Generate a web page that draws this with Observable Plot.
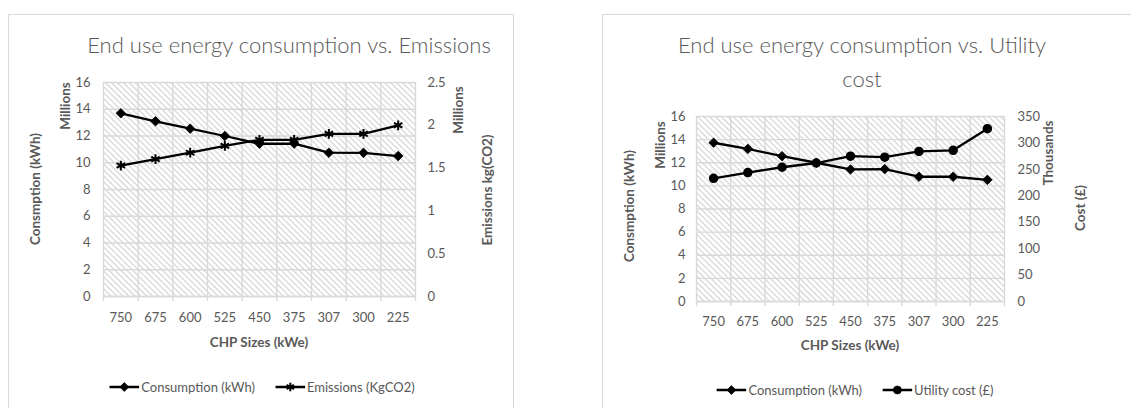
<!DOCTYPE html>
<html><head><meta charset="utf-8">
<script src="https://cdn.jsdelivr.net/npm/d3@7"></script>
<script src="https://cdn.jsdelivr.net/npm/@observablehq/plot@0.6"></script>
<style>
body{margin:0;background:#fff;font-family:Lato,"Open Sans",sans-serif;}
#root{position:relative;width:1131px;height:408px;overflow:hidden;background:#fff;}
.panel{position:absolute;border:1px solid #d9d9d9;}
.title{position:absolute;color:#595959;font-weight:300;font-size:22px;text-align:center;white-space:nowrap;transform:translateX(-50%);line-height:34px;}
.lab{position:absolute;color:#595959;font-weight:700;font-size:13.5px;white-space:nowrap;transform:translate(-50%,-50%) rotate(-90deg);}
.xlab{position:absolute;color:#595959;font-weight:700;font-size:13.5px;white-space:nowrap;transform:translate(-50%,-50%);}
.legend{position:absolute;display:flex;align-items:center;color:#595959;font-size:13px;white-space:nowrap;transform:translate(-50%,-50%);}
.legend .item{display:flex;align-items:center;margin-right:20px;}
.legend .item:last-child{margin-right:0;}
.legend svg{margin-right:2px;}
.plotwrap{position:absolute;top:0;}
</style></head><body><div id="root"></div>
<script>
// ---- data ----
const sizes = ["750","675","600","525","450","375","307","300","225"];
// Left chart: consumption (millions kWh) and emissions (millions kgCO2)
const consumptionL = [13.7,13.1,12.55,12.0,11.42,11.43,10.75,10.74,10.5];
const emissions    = [1.53,1.605,1.68,1.76,1.83,1.83,1.90,1.90,2.0];
// Right chart: consumption (millions kWh) and utility cost (thousands £)
const consumptionR = [13.73,13.2,12.57,12.0,11.42,11.45,10.79,10.79,10.52];
const utilityCost  = [233,244,254,262,275,273,284,286,327];
const consTicks = [0,2,4,6,8,10,12,14,16];
const emisTicks = [0,0.5,1,1.5,2,2.5];
const costTicks = [0,50,100,150,200,250,300,350];

const root = document.getElementById("root");

function el(cls, html, style){
  const d=document.createElement("div"); d.className=cls; d.innerHTML=html;
  Object.assign(d.style, style); root.appendChild(d); return d;
}

function makeChart(o){
  const primMax = 16;
  const k = primMax / o.secMax;
  const rows = sizes.map((s,i)=>({x:i+0.5, cons:o.cons[i], sec:o.sec[i]*k}));
  const svg = Plot.plot({
    width:o.width, height:408,
    marginLeft:o.ml, marginRight:o.mr, marginTop:o.mt, marginBottom:o.mb,
    style:{fontFamily:"Lato, 'Open Sans', sans-serif", fontSize:"13px", color:"#595959", background:"transparent", overflow:"visible"},
    x:{type:"linear", domain:[0,sizes.length]},
    y:{domain:[0,primMax]},
    marks:[
      Plot.frame({fill:`url(#${o.id})`, stroke:null}),
      Plot.gridY(consTicks,{stroke:"#d9d9d9", strokeOpacity:1, strokeWidth:1.4}),
      Plot.gridX(d3.range(sizes.length+1),{stroke:"#d9d9d9", strokeOpacity:1, strokeWidth:1.4}),
      Plot.ruleY([0],{stroke:"#d9d9d9", strokeWidth:1.4}),
      Plot.axisY(consTicks,{anchor:"left", tickSize:0, tickPadding:o.lpad, label:null}),
      Plot.axisY(o.secTicks.map(v=>v*k),{anchor:"right", tickSize:0, tickPadding:o.rpad, label:null,
        tickFormat:d=>String(+(d/k).toFixed(2))}),
      Plot.axisX(d3.range(sizes.length+1),{anchor:"bottom", tickSize:5, stroke:"#d9d9d9", strokeWidth:1.4, tickFormat:()=>"", label:null}),
      Plot.axisX(d3.range(sizes.length).map(i=>i+0.5),{anchor:"bottom", tickSize:0, tickPadding:o.xpad, label:null,
        tickFormat:d=>sizes[Math.floor(d)]}),
      Plot.line(rows,{x:"x", y:"cons", stroke:"#000", strokeWidth:2.3}),
      Plot.line(rows,{x:"x", y:"sec", stroke:"#000", strokeWidth:2.3}),
      Plot.dot(rows,{x:"x", y:"cons", symbol:"diamond2", r:4.3, fill:"#000", stroke:"#000", strokeWidth:0.8}),
      o.secSymbol==="asterisk"
        ? Plot.dot(rows,{x:"x", y:"sec", symbol:"asterisk", r:4.6, stroke:"#000", strokeWidth:2})
        : Plot.dot(rows,{x:"x", y:"sec", symbol:"circle", r:4, fill:"#000", stroke:"#000"})
    ]
  });
  d3.select(svg).insert("defs",":first-child").html(
    `<pattern id="${o.id}" width="4.2" height="4.2" patternUnits="userSpaceOnUse" patternTransform="rotate(45)">
       <rect width="4.2" height="4.2" fill="#ffffff"/>
       <rect width="4.2" height="1.2" fill="#d4d4d4"/>
     </pattern>`);
  const w=document.createElement("div"); w.className="plotwrap"; w.style.left=o.left+"px";
  w.appendChild(svg); root.appendChild(w);
}

function swatch(symbol, filled){
  const s = d3.create("svg").attr("width",30).attr("height",12);
  s.append("line").attr("x1",0).attr("x2",30).attr("y1",6).attr("y2",6).attr("stroke","#000").attr("stroke-width",2.3);
  const sym = {diamond2:d3.symbolDiamond2, asterisk:d3.symbolAsterisk, circle:d3.symbolCircle}[symbol];
  s.append("path").attr("transform","translate(15,6)").attr("d",d3.symbol(sym, 50)())
    .attr("fill", filled?"#000":"none").attr("stroke","#000").attr("stroke-width", filled?0.8:2);
  return s.node().outerHTML;
}

// panels
el("panel","",{left:"8px",top:"14px",width:"504px",height:"420px"});
el("panel","",{left:"602px",top:"14px",width:"560px",height:"420px"});

// left chart
makeChart({id:"hatchL", left:0, width:560, ml:103, mr:145, mt:82, mb:112, lpad:13, rpad:12, xpad:16,
  cons:consumptionL, sec:emissions, secMax:2.5, secTicks:emisTicks, secSymbol:"asterisk"});
// right chart
makeChart({id:"hatchR", left:570, width:561, ml:126, mr:127, mt:116, mb:107, lpad:11, rpad:13, xpad:15,
  cons:consumptionR, sec:utilityCost, secMax:350, secTicks:costTicks, secSymbol:"circle"});

// titles
el("title","End use energy consumption vs. Emissions",{left:"289px",top:"28px"});
el("title","End use energy consumption vs. Utility<br>cost",{left:"862px",top:"28px"});

// axis labels left chart
el("lab","Consmption (kWh)",{left:"35px",top:"189px"});
el("lab","Millions",{left:"65px",top:"106px"});
el("lab","Millions",{left:"458px",top:"110px"});
el("lab","Emissions kg(CO2)",{left:"487px",top:"190px"});
el("xlab","CHP Sizes (kWe)",{left:"259px",top:"342px"});
// axis labels right chart
el("lab","Consmption (kWh)",{left:"629px",top:"206px"});
el("lab","Millions",{left:"660px",top:"145px"});
el("lab","Thousands",{left:"1048px",top:"153px"});
el("lab","Cost (£)",{left:"1080px",top:"208px"});
el("xlab","CHP Sizes (kWe)",{left:"850px",top:"345px"});

// legends
el("legend",`<div class="item">${swatch("diamond2",true)}<span>Consumption (kWh)</span></div><div class="item">${swatch("asterisk",false)}<span>Emissions (KgCO2)</span></div>`,{left:"262px",top:"387px"});
el("legend",`<div class="item">${swatch("diamond2",true)}<span>Consumption (kWh)</span></div><div class="item">${swatch("circle",true)}<span>Utility cost (£)</span></div>`,{left:"855px",top:"390px"});
</script></body></html>
